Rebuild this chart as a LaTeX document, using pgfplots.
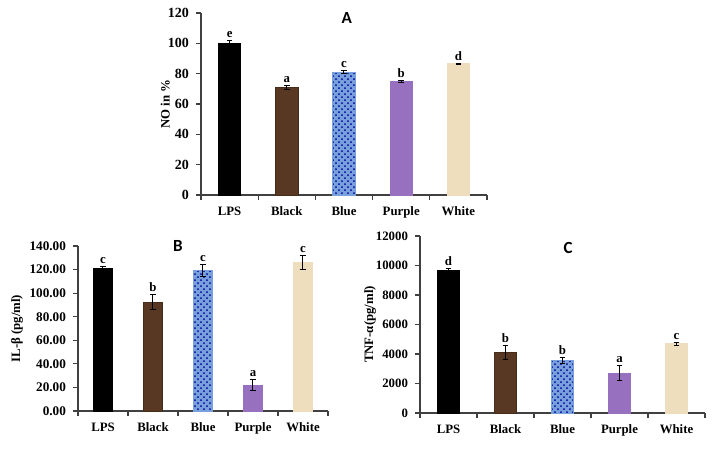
\documentclass[border=0pt]{standalone}
\usepackage{fontspec}
\setmainfont{Liberation Serif}
\newfontfamily\titlefont{Carlito}
\usepackage{pgfplots}
\pgfplotsset{compat=1.18}
\usetikzlibrary{patterns}

\definecolor{lpsc}{RGB}{0,0,0}
\definecolor{blackc}{RGB}{88,56,34}
\definecolor{bluec}{RGB}{120,160,220}
\definecolor{purplec}{RGB}{152,112,192}
\definecolor{whitec}{RGB}{238,222,190}

\pgfplotsset{
  panel/.style={
    scale only axis, clip=false,
    ybar, bar shift=0pt,
    axis lines*=left,
    axis line style={black!75, line width=0.6pt},
    xmin=0.5, xmax=5.5, ymin=0,
    enlargelimits=false,
    xtick={0.5,1.5,2.5,3.5,4.5,5.5},
    xticklabels={LPS,Black,Blue,Purple,White,{}},
    tick align=outside,
    major tick length=2.5pt,
    tick style={black!75, line width=0.6pt},
    xticklabel style={font=\bfseries\fontsize{6.4}{7}\selectfont},
    yticklabel style={font=\bfseries\fontsize{7}{8}\selectfont},
    /pgf/number format/assume math mode=true,
    ylabel style={font=\bfseries\fontsize{6.4}{7}\selectfont, anchor=center},
    error bars/y dir=both,
    error bars/y explicit,
    error bars/error bar style={black, line width=0.5pt},
    error bars/error mark options={rotate=90, mark size=1.4pt, black, line width=0.5pt},
  },
}
\tikzset{
  lab/.style={anchor=south, inner sep=1.2pt, font=\bfseries\fontsize{6.4}{7}\selectfont},
  ttl/.style={font=\titlefont\bfseries\fontsize{8.5}{10}\selectfont},
}

\begin{document}
\begin{tikzpicture}
\path[use as bounding box] (0,0) rectangle (360pt,-231.5pt);

% Panel A
\begin{axis}[panel, at={(100.5pt,-97.5pt)}, anchor=south west,
  width=143pt, height=91pt, bar width=0.39,
  ymax=120, ytick={0,20,...,120},
  xticklabel style={xshift=14.3pt},
  ylabel={NO in \%},
  ylabel style={at={(axis description cs:-0.125,0.5)}}]
\addplot[fill=lpsc, draw=black] coordinates {(1,100) +- (0,2)};
\addplot[fill=blackc, draw=blackc!80!black] coordinates {(2,71) +- (0,1.5)};
\addplot[fill=bluec, draw=bluec, postaction={pattern=crosshatch dots, pattern color=blue!60!black}] coordinates {(3,81) +- (0,1)};
\addplot[fill=purplec, draw=purplec] coordinates {(4,75) +- (0,0.5)};
\addplot[fill=whitec, draw=whitec] coordinates {(5,86.5) +- (0,0.5)};
\node[lab] at (axis cs:1,102) {e};
\node[lab] at (axis cs:2,72.5) {a};
\node[lab] at (axis cs:3,82) {c};
\node[lab] at (axis cs:4,75.5) {b};
\node[lab] at (axis cs:5,87) {d};
\node[ttl] at (rel axis cs:0.51,0.97) {A};
\end{axis}

% Panel B
\begin{axis}[panel, at={(39pt,-205.5pt)}, anchor=south west,
  width=125pt, height=82.5pt, bar width=0.38,
  ymax=140, ytick={0,20,...,140},
  xticklabel style={xshift=12.5pt},
  yticklabel style={/pgf/number format/fixed, /pgf/number format/fixed zerofill, /pgf/number format/precision=2, font=\bfseries\fontsize{6.6}{7}\selectfont},
  ylabel={IL-β (pg/ml)},
  ylabel style={at={(axis description cs:-0.244,0.5)}}]
\addplot[fill=lpsc, draw=black] coordinates {(1,121) +- (0,2)};
\addplot[fill=blackc, draw=blackc!80!black] coordinates {(2,92.5) +- (0,6)};
\addplot[fill=bluec, draw=bluec, postaction={pattern=crosshatch dots, pattern color=blue!60!black}] coordinates {(3,119) +- (0,5)};
\addplot[fill=purplec, draw=purplec] coordinates {(4,22) +- (0,4.5)};
\addplot[fill=whitec, draw=whitec] coordinates {(5,126) +- (0,6)};
\node[lab] at (axis cs:1,123) {c};
\node[lab] at (axis cs:2,98.5) {b};
\node[lab] at (axis cs:3,124) {c};
\node[lab] at (axis cs:4,26.5) {a};
\node[lab] at (axis cs:5,132) {c};
\node[ttl] at (rel axis cs:0.40,1.0) {B};
\end{axis}

% Panel C
\begin{axis}[panel, at={(210pt,-206.5pt)}, anchor=south west,
  width=142.5pt, height=88.5pt, bar width=0.39,
  ymax=12000, ytick={0,2000,...,12000},
  scaled y ticks=false,
  yticklabel style={/pgf/number format/1000 sep={}, font=\bfseries\fontsize{6.4}{7}\selectfont},
  xticklabel style={xshift=14.25pt},
  ylabel={TNF-α(pg/ml)},
  ylabel style={at={(axis description cs:-0.175,0.5)}}]
\addplot[fill=lpsc, draw=black] coordinates {(1,9650) +- (0,150)};
\addplot[fill=blackc, draw=blackc!80!black] coordinates {(2,4100) +- (0,450)};
\addplot[fill=bluec, draw=bluec, postaction={pattern=crosshatch dots, pattern color=blue!60!black}] coordinates {(3,3550) +- (0,200)};
\addplot[fill=purplec, draw=purplec] coordinates {(4,2700) +- (0,500)};
\addplot[fill=whitec, draw=whitec] coordinates {(5,4700) +- (0,100)};
\node[lab] at (axis cs:1,9800) {d};
\node[lab] at (axis cs:2,4550) {b};
\node[lab] at (axis cs:3,3750) {b};
\node[lab] at (axis cs:4,3200) {a};
\node[lab] at (axis cs:5,4800) {c};
\node[ttl] at (rel axis cs:0.52,0.93) {C};
\end{axis}
\end{tikzpicture}
\end{document}
